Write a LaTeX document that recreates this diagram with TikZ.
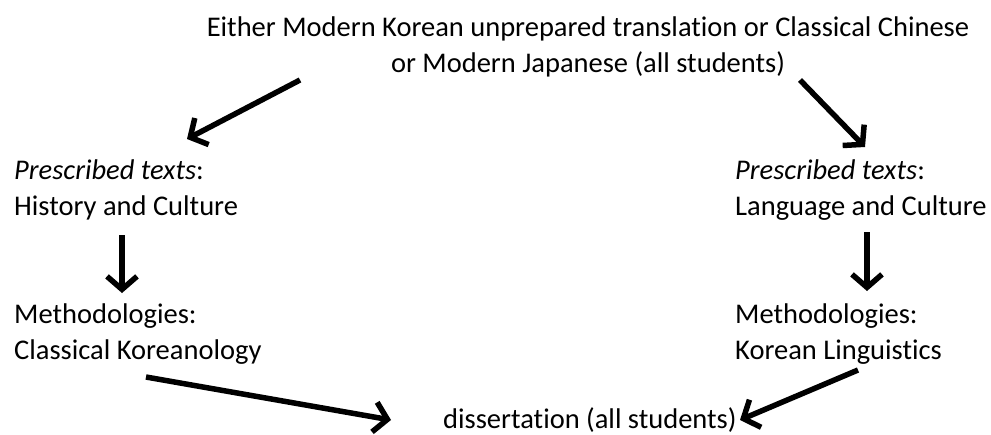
\documentclass[tikz,border=0pt]{standalone}
\usepackage{fontspec}
\setmainfont{Carlito}[Ligatures=NoCommon]
\usetikzlibrary{arrows.meta}

\begin{document}
\begin{tikzpicture}[x=1pt,y=-1pt]
        \useasboundingbox (0,0) rectangle (991,434);
        \begin{scope}[every node/.style={inner sep=0pt, align=left, font=\fontsize{28.5}{36}\selectfont}]
                \node[anchor=base, align=center] (exam) at (588,72) {Either Modern Korean unprepared translation or Classical Chinese\\or Modern Japanese (all students)};
                \node[anchor=base west] (hist) at (14,215) {\textit{Prescribed texts}:\\History and Culture};
                \node[anchor=base west] (lang) at (735,215) {\textit{Prescribed texts}:\\Language and Culture};
                \node[anchor=base west] (clkor) at (14,359) {Methodologies:\\Classical Koreanology};
                \node[anchor=base west] (ling) at (735,359) {Methodologies:\\Korean Linguistics};
                \node[anchor=base west] (diss) at (443,428) {dissertation (all students)};
        \end{scope}
        % arrow ends
        \coordinate (exam-l) at (300,80);
        \coordinate (hist-in) at (187,139);
        \coordinate (exam-r) at (800,80);
        \coordinate (lang-in) at (865,147);
        \coordinate (hist-out) at (122,235);
        \coordinate (clkor-in) at (122,293);
        \coordinate (lang-out) at (867,232);
        \coordinate (ling-in) at (867,291);
        \coordinate (clkor-out) at (146,377);
        \coordinate (diss-l) at (391,420);
        \coordinate (ling-out) at (858,370);
        \coordinate (diss-r) at (740,420);
        \begin{scope}[every path/.style={line width=5.5pt, -{Straight Barb[length=13pt,width=30pt]}}]
                \path (exam-l) edge (hist-in);
                \path (exam-r) edge (lang-in);
                \path (hist-out) edge (clkor-in);
                \path (lang-out) edge (ling-in);
                \path (clkor-out) edge (diss-l);
                \path (ling-out) edge (diss-r);
        \end{scope}
\end{tikzpicture}
\end{document}
